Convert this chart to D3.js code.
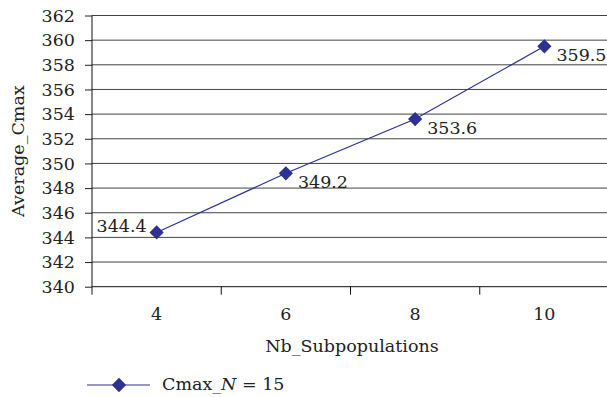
<!DOCTYPE html>
<html>
<head>
<meta charset="utf-8">
<script src="https://cdn.jsdelivr.net/npm/d3@7"></script>
<style>
  body { margin: 0; background: #fff; }
</style>
</head>
<body>
<svg id="chart" width="607" height="397"></svg>
<script>
let categories = ['4', '6', '8', '10'];
let cmaxValues = [344.4, 349.2, 353.6, 359.5];
let yTicks = d3.range(340, 363, 2);
let seriesName = 'Cmax';

let svg = d3.select('#chart');
let plotLeft = 92, plotTop = 15.5, plotBottom = 286.7, plotRight = 609;
let lineColor = '#2e3192';
let serif = "DejaVu Serif";
let fs = '17.5px';

let x = d3.scaleBand().domain(categories).range([plotLeft, plotRight]);
let y = d3.scaleLinear().domain([340, 362]).range([plotBottom, plotTop]);

// horizontal grid + y axis
let yAxis = svg.append('g')
    .attr('transform', 'translate(' + plotLeft + ',0)')
    .call(d3.axisLeft(y).tickValues(yTicks).tickSize(7).tickPadding(10));
yAxis.select('.domain').remove();
yAxis.attr('font-family', null).attr('font-size', null);
yAxis.selectAll('.tick line').attr('stroke', '#222');

svg.append('g').selectAll('line')
    .data(yTicks)
    .join('line')
    .attr('x1', plotLeft).attr('x2', 607)
    .attr('y1', d => y(d)).attr('y2', d => y(d))
    .attr('stroke', d => d == 340 ? '#111' : '#444')
    .attr('stroke-width', 1);

svg.append('line')
    .attr('x1', plotLeft).attr('x2', plotLeft)
    .attr('y1', plotTop).attr('y2', plotBottom + 8)
    .attr('stroke', '#111');

// x axis with ticks between categories
let xAxis = svg.append('g')
    .attr('transform', 'translate(0,' + plotBottom + ')');
xAxis.selectAll('line')
    .data(categories.slice(1))
    .join('line')
    .attr('x1', d => x(d)).attr('x2', d => x(d))
    .attr('y1', 0).attr('y2', 8)
    .attr('stroke', '#111');
xAxis.selectAll('text')
    .data(categories)
    .join('text')
    .attr('x', d => x(d) + x.bandwidth() / 2)
    .attr('y', 33)
    .attr('text-anchor', 'middle')
    .text(d => d);

// axis titles
svg.append('text')
    .attr('x', 352).attr('y', 352)
    .attr('text-anchor', 'middle')
    .text('Nb_Subpopulations');

svg.append('text')
    .attr('transform', 'translate(24,' + ((plotTop + plotBottom) / 2) + ') rotate(-90)')
    .attr('text-anchor', 'middle')
    .text('Average_Cmax');

// series
let points = categories.map((c, i) => ({ c: c, v: cmaxValues[i] }));
let line = d3.line()
    .x(d => x(d.c) + x.bandwidth() / 2)
    .y(d => y(d.v));

svg.append('path')
    .datum(points)
    .attr('d', line)
    .attr('fill', 'none')
    .attr('stroke', lineColor)
    .attr('stroke-width', 1.2);

let diamond = d3.symbol().type(d3.symbolDiamond2).size(130);
svg.append('g').selectAll('path')
    .data(points)
    .join('path')
    .attr('transform', d => 'translate(' + (x(d.c) + x.bandwidth() / 2) + ',' + y(d.v) + ')')
    .attr('d', diamond)
    .attr('fill', lineColor);

svg.append('g').selectAll('text')
    .data(points)
    .join('text')
    .attr('x', (d, i) => x(d.c) + x.bandwidth() / 2 + (i == 0 ? -10 : 12))
    .attr('y', (d, i) => y(d.v) + (i == 0 ? 0 : 15))
    .attr('text-anchor', (d, i) => i == 0 ? 'end' : 'start')
    .text(d => d.v.toFixed(1));

// legend
let ly = 385;
svg.append('line')
    .attr('x1', 87).attr('x2', 150)
    .attr('y1', ly).attr('y2', ly)
    .attr('stroke', lineColor).attr('stroke-width', 1.2);
svg.append('path')
    .attr('transform', 'translate(119,' + ly + ')')
    .attr('d', diamond)
    .attr('fill', lineColor);
let lt = svg.append('text')
    .attr('x', 162).attr('y', ly + 5);
lt.append('tspan').text(seriesName + '_');
lt.append('tspan').style('font-style', 'italic').text('N');
lt.append('tspan').text(' = 15');

svg.selectAll('text')
    .attr('font-family', serif)
    .attr('font-size', fs)
    .attr('fill', '#222');
</script>
</body>
</html>
